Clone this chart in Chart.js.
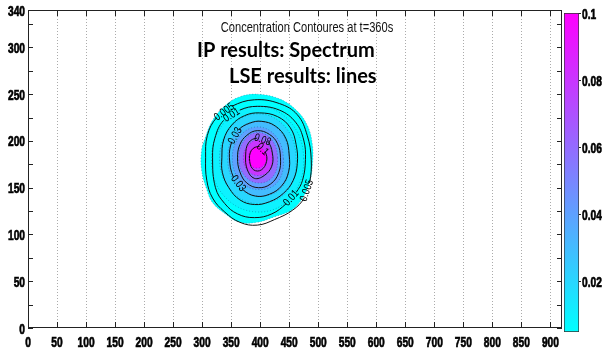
<!DOCTYPE html>
<html>
<head>
<meta charset="utf-8">
<script src="https://cdn.jsdelivr.net/npm/chart.js@4.4.1/dist/chart.umd.min.js"></script>
<style>
  html, body { margin: 0; padding: 0; background: #fff; }
  #wrap { position: relative; width: 602px; height: 356px; overflow: hidden; }
  #plot { position: absolute; left: 0; top: 0; }
  #cbar { position: absolute; left: 554px; top: 0; }
</style>
</head>
<body>
<div id="wrap">
  <canvas id="plot" width="602" height="356"></canvas>
  <canvas id="cbar" width="48" height="356"></canvas>
</div>
<script>
// ---- axes ----
const xTickVals = [0, 50, 100, 150, 200, 250, 300, 350, 400, 450, 500, 550, 600, 650, 700, 750, 800, 850, 900];
const xLimits = [0, 920];
const yTickVals = [0, 25, 50, 75, 100, 125, 150, 175, 200, 225, 250, 275, 300, 325, 340];
const yLabelVals = [0, 50, 100, 150, 200, 250, 300, 340];
const yLimits = [0, 340];
const cbTickVals = [0.02, 0.04, 0.06, 0.08, 0.1];
const cbLimits = [0.005, 0.1];

// ---- IP results: filled concentration regions (outline of each level) ----
const ipLevels = [0.005, 0.01, 0.02, 0.03, 0.04, 0.06, 0.08, 0.1];
const ipX_005 = [395, 433, 462, 481, 490, 490, 485, 471, 454, 425, 395, 365, 340, 318, 308, 299, 299, 304, 318, 340, 364];
const ipY_005 = [250, 245, 233, 217, 196, 174, 155, 137, 126, 119, 113, 113, 122, 134, 148, 169, 190, 201, 222, 238, 247];
const ipX_01 = [475, 451, 395, 340, 316, 338, 397, 453];
const ipY_01 = [181, 221, 237, 221, 181, 141, 124, 140];
const ipX_02 = [462, 443, 396, 350, 330, 351, 398, 446];
const ipY_02 = [181, 215, 229, 215, 181, 146, 133, 146];
const ipX_03 = [450, 435, 397, 360, 344, 361, 399, 438];
const ipY_03 = [181, 210, 221, 210, 181, 152, 141, 151];
const ipX_04 = [440, 427, 396, 365, 352, 366, 398, 430];
const ipY_04 = [181, 205, 215, 205, 181, 157, 148, 156];
const ipX_06 = [430, 420, 396, 373, 363, 373, 397, 422];
const ipY_06 = [182, 201, 209, 201, 182, 163, 155, 162];
const ipX_08 = [421, 414, 396, 379, 371, 379, 397, 415];
const ipY_08 = [182, 195, 201, 195, 182, 168, 163, 168];
const ipX_10 = [411, 406, 395, 384, 380, 384, 395, 406];
const ipY_10 = [182, 190, 194, 190, 182, 174, 171, 174];

// ---- LSE results: contour lines ----
const lseLevels = [0.005, 0.01, 0.02, 0.03, 0.05, 0.08, 0.1];
const lseX_005 = [306, 309, 325, 351, 390, 433, 464, 481, 488, 485, 476, 456, 425, 395, 365, 339, 318, 308];
const lseY_005 = [182, 206, 225, 237, 244, 240, 228, 206, 180, 155, 139, 126, 116, 110, 113, 124, 139, 158];
const lseX_01 = [318, 322, 337, 365, 395, 433, 461, 475, 478, 473, 462, 445, 420, 390, 361, 339, 323];
const lseY_01 = [182, 203, 222, 233, 237, 233, 220, 201, 180, 158, 145, 133, 122, 118, 122, 133, 150];
const lseX_02 = [334, 337, 351, 373, 399, 430, 452, 462, 464, 457, 440, 416, 390, 365, 346, 335];
const lseY_02 = [182, 201, 217, 227, 230, 226, 214, 196, 176, 158, 144, 135, 132, 137, 150, 166];
const lseX_03 = [347, 351, 363, 382, 402, 426, 444, 450, 449, 437, 416, 392, 370, 354];
const lseY_03 = [182, 199, 212, 219, 221, 216, 203, 185, 167, 152, 143, 141, 148, 161];
const lseX_05 = [361, 365, 377, 395, 416, 430, 435, 432, 418, 397, 377, 365];
const lseY_05 = [182, 196, 206, 211, 207, 197, 182, 166, 154, 150, 155, 167];
const lseX_08 = [375, 380, 395, 413, 421, 420, 407, 390, 378];
const lseY_08 = [185, 198, 203, 199, 187, 173, 163, 160, 169];
const lseX_10 = [385, 399, 409, 411, 402, 389, 382];
const lseY_10 = [190, 194, 188, 178, 169, 169, 178];

// contour labels: [line number, segment on that line]
const lseLabelLine = [0, 1, 3, 0, 1, 3, 5, 6];
const lseLabelSeg  = [2, 2, 1, 9, 10, 12, 2, 1];

const ipOutlines = [
  [ipX_005, ipY_005], [ipX_01, ipY_01], [ipX_02, ipY_02], [ipX_03, ipY_03],
  [ipX_04, ipY_04], [ipX_06, ipY_06], [ipX_08, ipY_08], [ipX_10, ipY_10]
];
const lseLines = [
  [lseX_005, lseY_005], [lseX_01, lseY_01], [lseX_02, lseY_02], [lseX_03, lseY_03],
  [lseX_05, lseY_05], [lseX_08, lseY_08], [lseX_10, lseY_10]
];

const sans = '"Liberation Sans", Arial, sans-serif';
const tickFont = `bold 15px ${sans}`;
const squeeze = 0.68;

// text squeezed horizontally to get a condensed face; heavy = extra outline
function narrowText(ctx, text, x, y, align, font, sx, angle, heavy) {
  ctx.save();
  ctx.translate(x, y);
  if (angle) ctx.rotate(angle);
  ctx.scale(sx, 1);
  ctx.font = font;
  ctx.textAlign = align;
  ctx.fillText(text, 0, 0);
  if (heavy) {
    ctx.strokeStyle = ctx.fillStyle;
    ctx.lineWidth = heavy;
    ctx.strokeText(text, 0, 0);
  }
  ctx.restore();
}

// closed ring: wrap one point each side so the spline stays smooth at the seam
function ring(xs, ys) {
  const pts = xs.map((x, i) => ({ x, y: ys[i] }));
  const n = pts.length;
  return [pts[n - 1], ...pts, pts[0], pts[1]];
}

// "cool" colormap over the colorbar range
function coolColor(v) {
  const t = Math.max(0, Math.min(1, (v - cbLimits[0]) / (cbLimits[1] - cbLimits[0])));
  return `rgb(${Math.round(255 * t)},${Math.round(255 * (1 - t))},255)`;
}

const hidden = 'rgba(0,0,0,0)';

const fillSets = ipOutlines.map(([xs, ys], k) => ({
  data: ring(xs, ys),
  fill: 'shape',
  backgroundColor: coolColor(ipLevels[k]),
  borderColor: 'rgba(20,20,80,0.4)',
  borderWidth: 0.8,
  borderDash: [1, 2],
  tension: 0.4,
  pointRadius: 0,
  order: 100 - k,
  segment: {
    borderColor: c => (c.p0DataIndex === 0 || c.p0DataIndex === xs.length + 1) ? hidden : undefined
  }
}));

const lineSets = lseLines.map(([xs, ys], k) => {
  const gaps = new Set();
  lseLabelLine.forEach((ln, j) => { if (ln === k) gaps.add(lseLabelSeg[j] + 1); });
  return {
    data: ring(xs, ys),
    fill: false,
    borderColor: '#111',
    borderWidth: 1,
    tension: 0.4,
    pointRadius: 0,
    order: 10 - k,
    segment: {
      borderColor: c => (c.p0DataIndex === 0 || c.p0DataIndex === xs.length + 1 || gaps.has(c.p0DataIndex)) ? hidden : undefined
    }
  };
});

// contour labels along the LSE lines, rotated with the line
const contourLabels = {
  id: 'contourLabels',
  afterDatasetsDraw(chart) {
    const ctx = chart.ctx;
    const base = fillSets.length;
    ctx.save();
    ctx.fillStyle = '#000';
    ctx.textBaseline = 'middle';
    lseLabelLine.forEach((ln, j) => {
      const meta = chart.getDatasetMeta(base + ln);
      const a = meta.data[lseLabelSeg[j] + 1];
      const b = meta.data[lseLabelSeg[j] + 2];
      let ang = Math.atan2(b.y - a.y, b.x - a.x);
      if (ang > Math.PI / 2) ang -= Math.PI;
      if (ang < -Math.PI / 2) ang += Math.PI;
      narrowText(ctx, String(lseLevels[ln]), (a.x + b.x) / 2, (a.y + b.y) / 2, 'center', `11px ${sans}`, 0.8, ang);
    });
    ctx.restore();
  }
};

// box, inward ticks, tick labels and the annotation texts
const frameAndText = {
  id: 'frameAndText',
  afterDraw(chart) {
    const { ctx, chartArea: a, scales } = chart;
    ctx.save();
    ctx.strokeStyle = '#222';
    ctx.lineWidth = 1;
    ctx.beginPath();
    scales.x.ticks.forEach(t => {
      const p = Math.round(scales.x.getPixelForValue(t.value)) + 0.5;
      ctx.moveTo(p, a.bottom); ctx.lineTo(p, a.bottom - 6);
      ctx.moveTo(p, a.top); ctx.lineTo(p, a.top + 6);
    });
    scales.y.ticks.forEach(t => {
      const p = Math.round(scales.y.getPixelForValue(t.value)) + 0.5;
      ctx.moveTo(a.left, p); ctx.lineTo(a.left + 5, p);
      ctx.moveTo(a.right, p); ctx.lineTo(a.right - 5, p);
    });
    ctx.stroke();
    ctx.strokeRect(a.left + 0.5, a.top + 0.5, a.right - a.left - 1, a.bottom - a.top - 1);

    ctx.fillStyle = '#000';
    ctx.textBaseline = 'alphabetic';
    xTickVals.forEach(v => {
      narrowText(ctx, String(v), scales.x.getPixelForValue(v), a.bottom + 19, 'center', tickFont, squeeze, 0, 0.7);
    });
    yLabelVals.forEach(v => {
      narrowText(ctx, String(v), a.left - 3, scales.y.getPixelForValue(v) + 5.5, 'right', tickFont, squeeze, 0, 0.7);
    });

    ctx.fillStyle = '#111';
    narrowText(ctx, 'Concentration Contoures at t=360s', 307, 32, 'center', `15px ${sans}`, 0.74);
    ctx.fillStyle = '#000';
    ctx.textAlign = 'left';
    ctx.font = 'bold 20px Lato, "Open Sans", sans-serif';
    ctx.fillText('IP results: Spectrum', 197, 57);
    ctx.fillText('LSE results: lines', 229, 83);
    ctx.restore();
  }
};

new Chart(document.getElementById('plot'), {
  type: 'line',
  data: { datasets: [...fillSets, ...lineSets] },
  options: {
    responsive: false,
    animation: false,
    events: [],
    layout: { padding: { top: 10, right: 40, left: 0, bottom: 0 } },
    plugins: { legend: { display: false }, tooltip: { enabled: false } },
    scales: {
      x: {
        type: 'linear',
        min: xLimits[0], max: xLimits[1],
        z: 1,
        afterBuildTicks: s => { s.ticks = xTickVals.map(v => ({ value: v })); },
        afterFit: s => { s.height = 28; },
        grid: { color: '#ababab', lineWidth: 1, drawTicks: false },
        border: { display: false, dash: [1, 2] },
        ticks: { display: false }
      },
      y: {
        type: 'linear',
        min: yLimits[0], max: yLimits[1],
        afterBuildTicks: s => { s.ticks = yTickVals.map(v => ({ value: v })); },
        afterFit: s => { s.width = 28; },
        grid: { display: false, drawTicks: false },
        border: { display: false },
        ticks: { display: false }
      }
    }
  },
  plugins: [contourLabels, frameAndText]
});

// colorbar labels
const cbarText = {
  id: 'cbarText',
  afterDraw(chart) {
    const { ctx, chartArea: a, scales } = chart;
    ctx.save();
    ctx.fillStyle = '#000';
    ctx.textBaseline = 'alphabetic';
    cbTickVals.forEach(v => {
      narrowText(ctx, String(v), a.right + 3, scales.y.getPixelForValue(v) + 5.5, 'left', tickFont, squeeze, 0, 0.7);
    });
    ctx.restore();
  }
};

new Chart(document.getElementById('cbar'), {
  type: 'bar',
  data: {
    labels: [''],
    datasets: [{
      data: [cbLimits],
      backgroundColor: c => {
        const ch = c.chart;
        const ys = ch.scales.y;
        if (!ch.chartArea || !ys) return coolColor(cbLimits[0]);
        const g = ch.ctx.createLinearGradient(0, ys.getPixelForValue(cbLimits[0]), 0, ys.getPixelForValue(cbLimits[1]));
        g.addColorStop(0, coolColor(cbLimits[0]));
        g.addColorStop(1, coolColor(cbLimits[1]));
        return g;
      },
      borderColor: '#333',
      borderWidth: 1,
      borderSkipped: false,
      barPercentage: 1,
      categoryPercentage: 1
    }]
  },
  options: {
    responsive: false,
    animation: false,
    events: [],
    layout: { padding: { left: 10, top: 13, bottom: 24, right: 0 } },
    plugins: { legend: { display: false }, tooltip: { enabled: false } },
    scales: {
      x: { display: false },
      y: {
        position: 'right',
        min: cbLimits[0], max: cbLimits[1],
        afterBuildTicks: s => { s.ticks = cbTickVals.map(v => ({ value: v })); },
        afterFit: s => { s.width = 23; },
        grid: { drawOnChartArea: false, drawTicks: true, tickLength: 2, color: '#222' },
        border: { display: false },
        ticks: { display: false }
      }
    }
  },
  plugins: [cbarText]
});
</script>
</body>
</html>
